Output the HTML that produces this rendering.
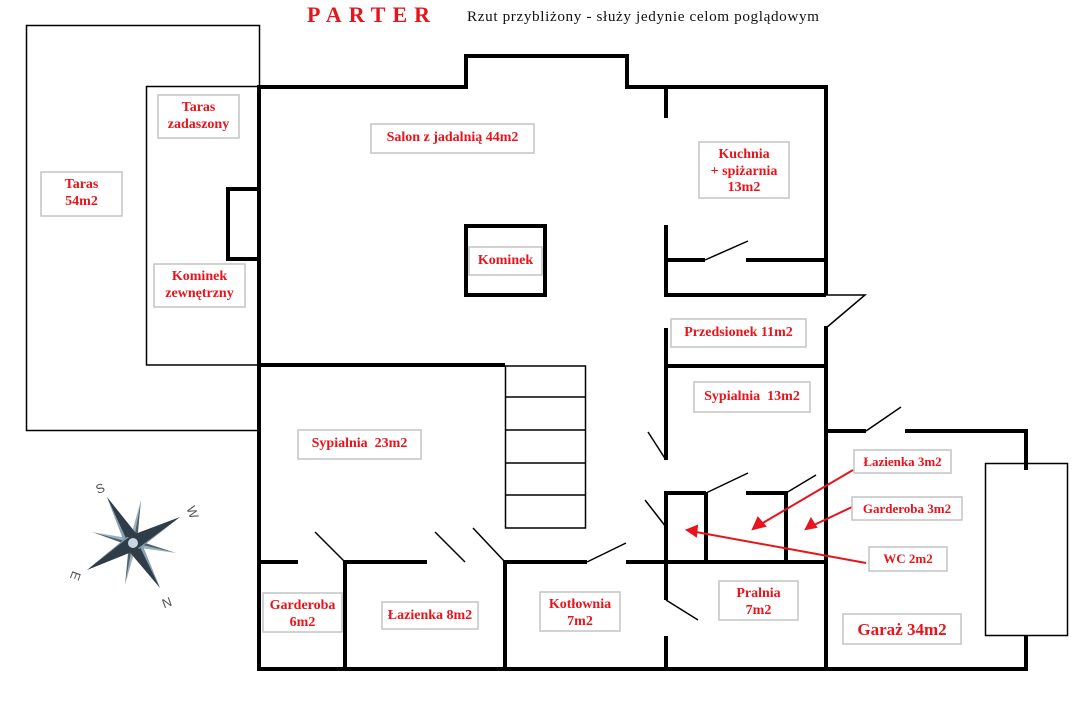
<!DOCTYPE html>
<html><head><meta charset="utf-8"><style>
html,body{margin:0;padding:0;background:#fff;}
svg{display:block;}
.t{font-family:"Liberation Serif",serif;font-weight:bold;fill:#e8141c;font-size:14px;text-anchor:middle;}
.s{font-size:13px;}
.g{font-size:17px;}
.b{fill:#fff;stroke:#c4c4c4;stroke-width:1.5;}
</style></head><body>
<svg width="1092" height="702" viewBox="0 0 1092 702" xmlns="http://www.w3.org/2000/svg">
<rect width="1092" height="702" fill="#fff"/>
<text x="307" y="22" font-family="Liberation Serif,serif" font-weight="bold" font-size="22" fill="#e8141c" letter-spacing="7">PARTER</text>
<text x="467" y="21" font-family="Liberation Serif,serif" font-size="15.2" fill="#111" textLength="352">Rzut przybliżony - służy jedynie celom poglądowym</text>

<g fill="none" stroke="#000" stroke-width="1.5">
<rect x="26.5" y="25.5" width="233" height="405"/>
<rect x="146.5" y="86.5" width="113" height="278.5"/>
<rect x="505.5" y="366" width="80" height="162"/>
<path d="M505 397H585M505 430H585M505 463H585M505 495H585"/>
<rect x="985.5" y="463.5" width="82" height="172"/>
<path d="M826 295H865L826 328M705 260L748 241M866 431L901 407M315 532L345 562M435 532L465 562M473 528L505 562M587 562L626 543M648 432L666 460M706 493L748 473M786 493L816 475M645 500L666 527M666 600L698 620"/>
</g>
<g fill="none" stroke="#000" stroke-width="4">
<rect x="228" y="189" width="31" height="70"/>
<rect x="466" y="226" width="79" height="69"/>
<path d="M259 87H466V56H627V87H826V295M259 85V671M257 669H1028M666 87V118M666 225V295H826M666 260H705M746 260H826"/>
<path d="M259 365H505M666 328V460M666 366H826M826 326V669M826 431H866M905 431H1026V470M1026 636V671"/>
<path d="M666 493V562M664 493H706M746 493H788M706 493V562M786 493V562"/>
<path d="M259 562H298M345 562H427M345 560V669M505 562H587M505 560V669M626 562H826M666 562V600M666 636V669"/>
</g>

<g stroke="#e8141c" stroke-width="2" fill="#e8141c">
<path d="M853 470L761 524" fill="none"/><polygon points="753,529 758,518 765,526"/>
<path d="M852 507L814 525" fill="none"/><polygon points="806,529 811,519 816,527"/>
<path d="M866 563L696 532" fill="none"/><polygon points="687,530 697,526 696,536"/>
</g>

<rect class="b" x="41" y="172" width="81" height="44"/>
<text class="t" x="81.5" y="188">Taras</text><text class="t" x="81.5" y="205">54m2</text>
<rect class="b" x="158" y="95" width="81" height="43"/>
<text class="t" x="198.5" y="111">Taras</text><text class="t" x="198.5" y="128">zadaszony</text>
<rect class="b" x="154" y="264" width="91" height="43"/>
<text class="t" x="199.5" y="280">Kominek</text><text class="t" x="199.5" y="297">zewnętrzny</text>
<rect class="b" x="371" y="124" width="163" height="29"/>
<text class="t" x="452.5" y="141">Salon z jadalnią 44m2</text>
<rect class="b" x="699" y="142" width="90" height="56"/>
<text class="t" x="744" y="158">Kuchnia</text><text class="t" x="744" y="175">+ spiżarnia</text><text class="t" x="744" y="191">13m2</text>
<rect class="b" x="469" y="247" width="73" height="28"/>
<text class="t" x="505.5" y="264">Kominek</text>
<rect class="b" x="671" y="319" width="135" height="28"/>
<text class="t" x="738.5" y="336">Przedsionek 11m2</text>
<rect class="b" x="694" y="382" width="116" height="30"/>
<text class="t" x="752" y="400">Sypialnia&#160; 13m2</text>
<rect class="b" x="298" y="430" width="123" height="29"/>
<text class="t" x="359.5" y="447">Sypialnia&#160; 23m2</text>
<rect class="b" x="854" y="450" width="97" height="23"/>
<text class="t s" x="902.5" y="466">Łazienka 3m2</text>
<rect class="b" x="852" y="497" width="110" height="23"/>
<text class="t s" x="907" y="513">Garderoba 3m2</text>
<rect class="b" x="869" y="547" width="78" height="24"/>
<text class="t s" x="908" y="563">WC 2m2</text>
<rect class="b" x="843" y="614" width="118" height="30"/>
<text class="t g" x="902" y="635">Garaż 34m2</text>
<rect class="b" x="263" y="593" width="79" height="39"/>
<text class="t" x="302.5" y="609">Garderoba</text><text class="t" x="302.5" y="626">6m2</text>
<rect class="b" x="382" y="602" width="96" height="27"/>
<text class="t" x="430" y="619">Łazienka 8m2</text>
<rect class="b" x="540" y="592" width="80" height="39"/>
<text class="t" x="580" y="608">Kotłownia</text><text class="t" x="580" y="625">7m2</text>
<rect class="b" x="719" y="581" width="79" height="39"/>
<text class="t" x="758.5" y="597">Pralnia</text><text class="t" x="758.5" y="614">7m2</text>

<g>
<polygon points="133,543 141,500 137,543" fill="#51636f"/>
<polygon points="133,543 141,500 129,543" fill="#9bb0bd"/>
<polygon points="133,543 92,532 133,547" fill="#51636f"/>
<polygon points="133,543 92,532 133,539" fill="#9bb0bd"/>
<polygon points="133,543 176,553 133,539" fill="#51636f"/>
<polygon points="133,543 176,553 133,547" fill="#9bb0bd"/>
<polygon points="133,543 125,585 129,543" fill="#51636f"/>
<polygon points="133,543 125,585 137,543" fill="#9bb0bd"/>
<polygon points="107,497 139,537 127,549" fill="#2f3d48"/>
<polygon points="107,497 130,547 127,549" fill="#8aa2b3"/>
<polygon points="160,588 127,549 139,537" fill="#2f3d48"/>
<polygon points="160,588 136,539 139,537" fill="#8aa2b3"/>
<polygon points="180,517 127,537 139,549" fill="#2f3d48"/>
<polygon points="180,517 137,549 139,549" fill="#8aa2b3"/>
<polygon points="87,570 139,549 127,537" fill="#2f3d48"/>
<polygon points="87,570 129,537 127,537" fill="#8aa2b3"/>
<circle cx="133" cy="543" r="5" fill="#c7d6e0"/>
<g font-family="Liberation Sans,sans-serif" font-size="13" fill="#555">
<text x="100" y="493" transform="rotate(-20 100 488)" text-anchor="middle">S</text>
<text x="193" y="517" transform="rotate(70 193 512)" text-anchor="middle">W</text>
<text x="76" y="581" transform="rotate(110 76 576)" text-anchor="middle">E</text>
<text x="167" y="608" transform="rotate(160 167 603)" text-anchor="middle">N</text>
</g>
</g>
</svg>
</body></html>
